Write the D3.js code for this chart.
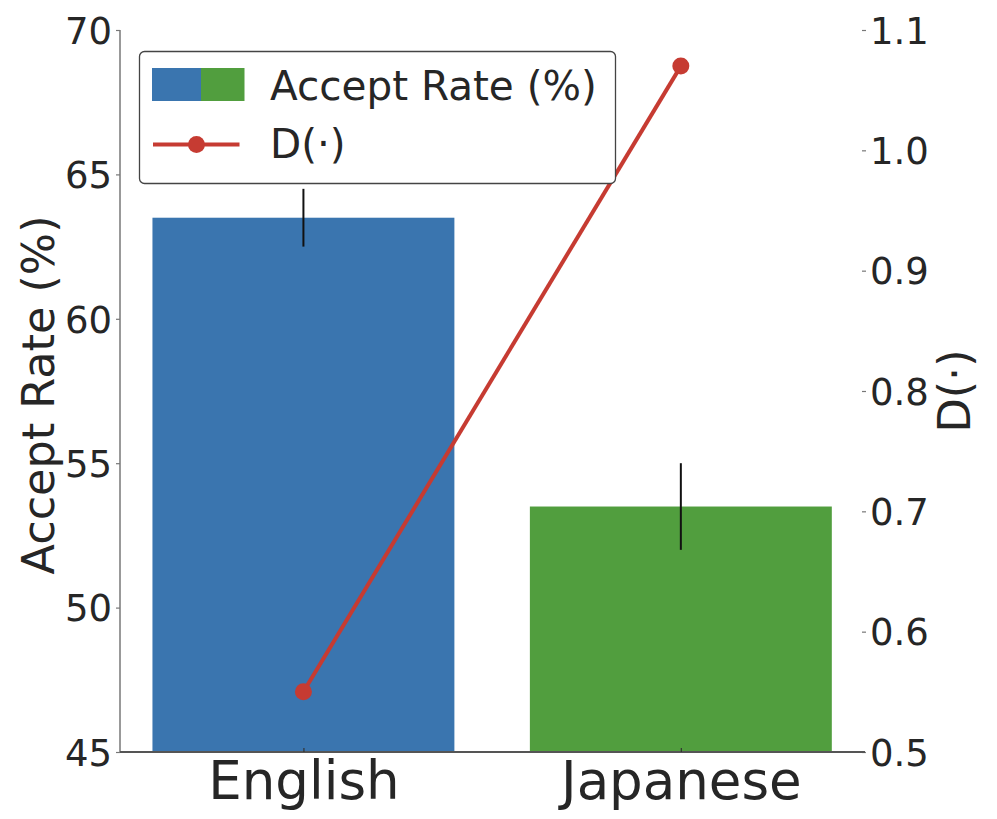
<!DOCTYPE html>
<html><head><meta charset="utf-8">
<script src="https://cdn.jsdelivr.net/npm/d3@7"></script>
<style>body{margin:0;background:#fff;} text{font-family:"DejaVu Sans",sans-serif;fill:#262626;}</style>
</head><body>
<svg id="c" width="997" height="819"></svg>
<script>
const categories = ["English", "Japanese"];
const acceptRate = [63.5, 53.5];
const acceptErr = [1.0, 1.5];
const dValues = [0.55, 1.07];
const barColors = ["#3a75af", "#519e3e"];
const leftTicks = [45, 50, 55, 60, 65, 70];
const rightTicks = [0.5, 0.6, 0.7, 0.8, 0.9, 1.0, 1.1];

const svg = d3.select("#c");
const L = 120, R = 862, T = 30, B = 752;
const x = d3.scaleLinear().domain([-0.486, 1.48]).range([L, R]);
const yL = d3.scaleLinear().domain([45, 70]).range([B, T]);
const yR = d3.scaleLinear().domain([0.5, 1.1]).range([B, T]);
const bw = 0.8;

// bars
svg.selectAll("rect.bar").data(categories).join("rect")
  .attr("x", (d, i) => x(i - bw / 2)).attr("width", (d, i) => x(i + bw / 2) - x(i - bw / 2))
  .attr("y", (d, i) => yL(acceptRate[i])).attr("height", (d, i) => yL(45) - yL(acceptRate[i]))
  .attr("fill", (d, i) => barColors[i]);

// error bars
svg.selectAll("line.err").data(categories).join("line")
  .attr("x1", (d, i) => x(i)).attr("x2", (d, i) => x(i))
  .attr("y1", (d, i) => yL(acceptRate[i] + acceptErr[i])).attr("y2", (d, i) => yL(acceptRate[i] - acceptErr[i]))
  .attr("stroke", "#111").attr("stroke-width", 2);

// left axis
const gL = svg.append("g").attr("transform", `translate(${L},0)`)
  .call(d3.axisLeft(yL).tickValues(leftTicks).tickSize(4).tickPadding(4).tickFormat(d3.format("d")));
gL.select(".domain").attr("stroke", "#777").attr("stroke-width", 1.5).attr("d", `M0,${B}V${T}`);
gL.selectAll(".tick line").attr("stroke", "#777").attr("stroke-width", 1.2);
gL.selectAll(".tick text").attr("font-size", 37).attr("font-family", "DejaVu Sans").attr("fill", "#262626").attr("dy", "0.36em");

// right axis (no spine)
const gR = svg.append("g").attr("transform", `translate(${R},0)`)
  .call(d3.axisRight(yR).tickValues(rightTicks).tickSize(4).tickPadding(4).tickFormat(d3.format(".1f")));
gR.select(".domain").remove();
gR.selectAll(".tick line").attr("stroke", "#777").attr("stroke-width", 1.2);
gR.selectAll(".tick text").attr("font-size", 37).attr("font-family", "DejaVu Sans").attr("fill", "#262626").attr("dy", "0.36em");

// bottom axis
const gB = svg.append("g").attr("transform", `translate(0,${B})`)
  .call(d3.axisBottom(x).tickValues([0, 1]).tickSize(-4).tickPadding(9).tickFormat(i => categories[i]));
gB.select(".domain").attr("stroke", "#555").attr("stroke-width", 1.8).attr("d", `M${L},0H${R + 3}`);
gB.selectAll(".tick line").attr("stroke", "#333").attr("stroke-width", 1.2);
gB.selectAll(".tick text").attr("font-size", 53).attr("font-family", "DejaVu Sans").attr("fill", "#262626");

// axis labels
svg.append("text").attr("transform", `translate(54,${(T + B) / 2 + 4}) rotate(-90)`)
  .attr("text-anchor", "middle").attr("font-size", 44.5).text("Accept Rate (%)");
svg.append("text").attr("transform", `translate(970,${(T + B) / 2}) rotate(-90)`)
  .attr("text-anchor", "middle").attr("font-size", 44.5).text("D(·)");

// D line
const line = d3.line().x((d, i) => x(i)).y(d => yR(d));
svg.append("path").datum(dValues).attr("d", line).attr("fill", "none")
  .attr("stroke", "#c63b32").attr("stroke-width", 4);
svg.selectAll("circle.pt").data(dValues).join("circle")
  .attr("cx", (d, i) => x(i)).attr("cy", d => yR(d)).attr("r", 8.5).attr("fill", "#c63b32");

// legend
const lg = svg.append("g");
lg.append("rect").attr("x", 139.5).attr("y", 51.5).attr("width", 476).attr("height", 132).attr("rx", 5)
  .attr("fill", "#fff").attr("stroke", "#444").attr("stroke-width", 1.3);
lg.append("rect").attr("x", 152).attr("y", 68).attr("width", 49).attr("height", 33).attr("fill", barColors[0]);
lg.append("rect").attr("x", 201).attr("y", 68).attr("width", 43.5).attr("height", 33).attr("fill", barColors[1]);
lg.append("line").attr("x1", 153).attr("x2", 239.5).attr("y1", 144.5).attr("y2", 144.5)
  .attr("stroke", "#c63b32").attr("stroke-width", 4);
lg.append("circle").attr("cx", 196.5).attr("cy", 144.5).attr("r", 8.5).attr("fill", "#c63b32");
lg.append("text").attr("x", 270).attr("y", 100).attr("font-size", 40.5).text("Accept Rate (%)");
lg.append("text").attr("x", 270).attr("y", 158).attr("font-size", 40.5).text("D(·)");
</script>
</body></html>
